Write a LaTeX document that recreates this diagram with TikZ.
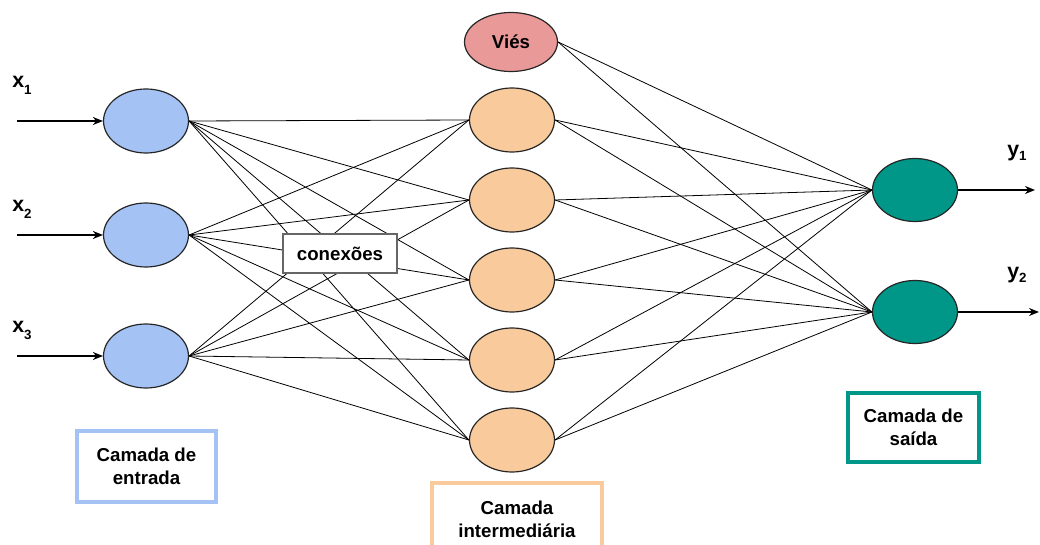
\documentclass[tikz,border=0pt]{standalone}
\usepackage{fontspec}
\setmainfont{Liberation Sans}
\usetikzlibrary{arrows.meta,shapes.geometric}
\definecolor{inblue}{HTML}{A4C2F4}
\definecolor{hidorange}{HTML}{F9CB9C}
\definecolor{biaspink}{HTML}{EA9999}
\definecolor{outteal}{HTML}{009688}
\definecolor{boxgray}{HTML}{666666}
\begin{document}
\begin{tikzpicture}[x=0.75pt,y=-0.75pt,
  neuron/.style={ellipse, draw=black!85, line width=0.9pt, inner sep=0pt,
    minimum width=63.75pt, minimum height=48pt},
  innode/.style={neuron, fill=inblue},
  hidnode/.style={neuron, fill=hidorange},
  biasnode/.style={neuron, fill=biaspink, minimum width=69.75pt, minimum height=44.25pt,
    font=\bfseries\fontsize{14}{16}\selectfont},
  outnode/.style={neuron, fill=outteal, minimum height=47.25pt},
  conn/.style={line width=0.6pt, black},
  flow/.style={line width=1.5pt, black, -{Stealth[length=7.5pt,width=6pt]}},
  layerbox/.style={rectangle, line width=2.3pt, fill=white, align=center,
    font=\bfseries\fontsize{14}{17.5}\selectfont},
  varlabel/.style={anchor=base west, inner sep=0pt, font=\bfseries\fontsize{16}{16}\selectfont}
]
\useasboundingbox (0,0) rectangle (1040,545);
\clip (0,0) rectangle (1040,545);

% input layer
\node[innode] (in1) at (146,121) {};
\node[innode] (in2) at (146,235) {};
\node[innode] (in3) at (146,356) {};

% hidden layer with bias unit on top
\node[biasnode] (h0) at (511,42) {Viés};
\node[hidnode] (h1) at (512,120) {};
\node[hidnode] (h2) at (512,200) {};
\node[hidnode] (h3) at (512,280) {};
\node[hidnode] (h4) at (512,360) {};
\node[hidnode] (h5) at (512,440) {};

% output layer
\node[outnode] (o1) at (915,190) {};
\node[outnode] (o2) at (915,312) {};

% input arrows and labels
\coordinate (s1) at (17,121);
\coordinate (s2) at (17,235);
\coordinate (s3) at (17,356);
\foreach \i in {1,2,3} \draw[flow] (s\i) -- (in\i.west);
\node[varlabel] (x1) at (12,88) {x\raisebox{-5pt}{\fontsize{10}{10}\selectfont 1}};
\node[varlabel] (x2) at (12,212) {x\raisebox{-5pt}{\fontsize{10}{10}\selectfont 2}};
\node[varlabel] (x3) at (12,333) {x\raisebox{-5pt}{\fontsize{10}{10}\selectfont 3}};

% output arrows and labels
\coordinate (e1) at (1035,190);
\coordinate (e2) at (1039,312);
\draw[flow] (o1.east) -- (e1);
\draw[flow] (o2.east) -- (e2);
\node[varlabel] (y1) at (1007,157) {y\raisebox{-3pt}{\fontsize{10}{10}\selectfont 1}};
\node[varlabel] (y2) at (1007,279) {y\raisebox{-3pt}{\fontsize{10}{10}\selectfont 2}};

% weighted connections
\foreach \i in {1,2,3}
  \foreach \j in {1,...,5}
    \draw[conn] (in\i.east) -- (h\j.west);
\foreach \j in {0,...,5}
  \foreach \k in {1,2}
    \draw[conn] (h\j.east) -- (o\k.west);

% captions
\node[layerbox, draw=boxgray, line width=1.8pt, minimum width=85.5pt, minimum height=29.25pt,
  font=\bfseries\fontsize{14}{16}\selectfont] (conx) at (340,253.5) {conexões};
\node[layerbox, draw=inblue, minimum width=104.25pt, minimum height=53.25pt] (cin) at (146.5,466.5)
  {Camada de\\entrada};
\node[layerbox, draw=hidorange, minimum width=127.5pt, minimum height=54pt] (chid) at (517,519)
  {Camada\\intermediária};
\node[layerbox, draw=outteal, minimum width=98.25pt, minimum height=51.75pt] (cout) at (913.5,427.5)
  {Camada de\\saída};
\end{tikzpicture}
\end{document}
